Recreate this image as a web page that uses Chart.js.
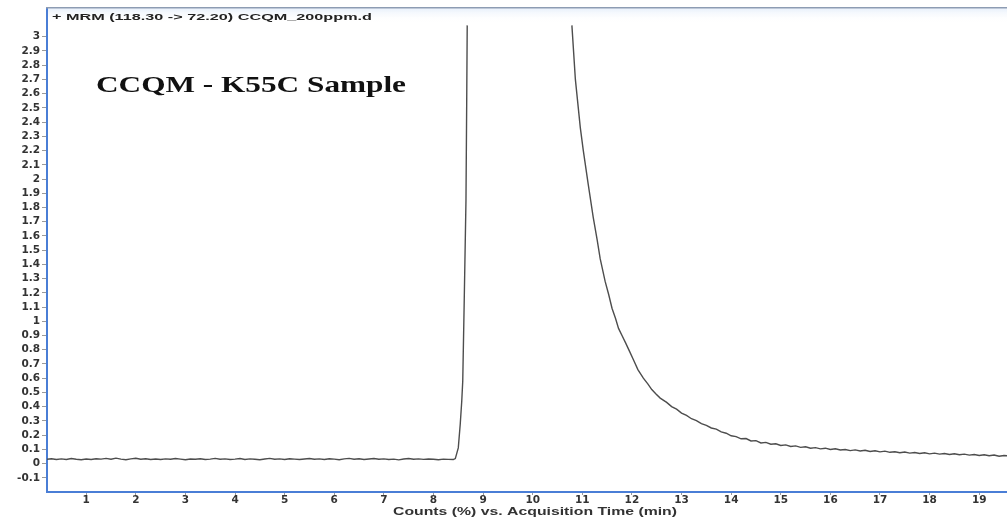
<!DOCTYPE html>
<html>
<head>
<meta charset="utf-8">
<script src="https://cdn.jsdelivr.net/npm/chart.js@4/dist/chart.umd.min.js"></script>
<style>
  html, body { margin: 0; padding: 0; background: #fff; }
  #wrap { width: 1007px; height: 518px; }
</style>
</head>
<body>
<div id="wrap"><canvas id="tic" width="1007" height="518"></canvas></div>
<script>
// chromatogram trace (time in min, counts in %)
const baseTimes = [0.2, 0.3, 0.4, 0.5, 0.6, 0.7, 0.8, 0.9, 1.0, 1.1, 1.2, 1.3, 1.4, 1.5, 1.6, 1.7, 1.8, 1.9,
  2.0, 2.1, 2.2, 2.3, 2.4, 2.5, 2.6, 2.7, 2.8, 2.9, 3.0, 3.1, 3.2, 3.3, 3.4, 3.5, 3.6, 3.7, 3.8, 3.9,
  4.0, 4.1, 4.2, 4.3, 4.4, 4.5, 4.6, 4.7, 4.8, 4.9, 5.0, 5.1, 5.2, 5.3, 5.4, 5.5, 5.6, 5.7, 5.8, 5.9,
  6.0, 6.1, 6.2, 6.3, 6.4, 6.5, 6.6, 6.7, 6.8, 6.9, 7.0, 7.1, 7.2, 7.3, 7.4, 7.5, 7.6, 7.7, 7.8, 7.9,
  8.0, 8.1, 8.2, 8.3, 8.4];
const baseCounts = [0.030, 0.034, 0.028, 0.033, 0.029, 0.035, 0.030, 0.027, 0.032, 0.029, 0.034, 0.031, 0.036, 0.030, 0.038, 0.031, 0.027, 0.033,
  0.037, 0.030, 0.034, 0.029, 0.032, 0.028, 0.033, 0.030, 0.035, 0.031, 0.027, 0.032, 0.030, 0.034, 0.028, 0.031, 0.036, 0.030, 0.033, 0.028,
  0.031, 0.035, 0.029, 0.033, 0.030, 0.027, 0.032, 0.036, 0.030, 0.033, 0.029, 0.034, 0.031, 0.028, 0.032, 0.035, 0.030, 0.033, 0.029, 0.034,
  0.031, 0.027, 0.033, 0.036, 0.030, 0.034, 0.029, 0.032, 0.035, 0.030, 0.033, 0.028, 0.031, 0.026, 0.032, 0.035, 0.030, 0.033, 0.029, 0.032,
  0.030, 0.027, 0.031, 0.029, 0.028];

const riseTimes = [8.44, 8.50, 8.54, 8.57, 8.59, 8.62, 8.655, 8.67, 8.68];
const riseCounts = [0.035, 0.11, 0.28, 0.44, 0.58, 1.15, 1.85, 2.56, 3.08];

// trace is off scale between the two sides of the peak
const gapTime = 9.7;

const decayTimes = [10.79, 10.86, 10.96, 11.02, 11.12, 11.22, 11.30, 11.36, 11.46, 11.53, 11.60, 11.67, 11.73, 11.80, 11.87,
  11.95, 12.03, 12.12, 12.23, 12.32, 12.40, 12.48, 12.57,
  12.7, 12.8, 12.9, 13.0, 13.1, 13.2, 13.3, 13.4, 13.5, 13.6, 13.7, 13.8, 13.9, 14.0, 14.1, 14.2, 14.3, 14.4,
  14.5, 14.6, 14.7, 14.8, 14.9, 15.0, 15.1, 15.2, 15.3, 15.4, 15.5, 15.6, 15.7, 15.8, 15.9, 16.0, 16.1, 16.2,
  16.3, 16.4, 16.5, 16.6, 16.7, 16.8, 16.9, 17.0, 17.1, 17.2, 17.3, 17.4, 17.5, 17.6, 17.7, 17.8, 17.9, 18.0,
  18.1, 18.2, 18.3, 18.4, 18.5, 18.6, 18.7, 18.8, 18.9, 19.0, 19.1, 19.2, 19.3, 19.4, 19.5, 19.6];
const decayCounts = [3.08, 2.70, 2.36, 2.20, 1.96, 1.73, 1.57, 1.44, 1.28, 1.19, 1.09, 1.02, 0.95, 0.90, 0.85,
  0.79, 0.73, 0.66, 0.60, 0.56, 0.52, 0.49, 0.46,
  0.43, 0.400, 0.382, 0.355, 0.338, 0.315, 0.302, 0.280, 0.268, 0.250, 0.242, 0.222, 0.213, 0.195, 0.189, 0.174, 0.176, 0.159,
  0.161, 0.145, 0.149, 0.136, 0.139, 0.127, 0.131, 0.120, 0.124, 0.114, 0.118, 0.108, 0.112, 0.103, 0.108, 0.099, 0.104, 0.095,
  0.099, 0.091, 0.096, 0.088, 0.093, 0.085, 0.090, 0.082, 0.087, 0.079, 0.083, 0.076, 0.081, 0.073, 0.078, 0.071, 0.076, 0.068,
  0.073, 0.066, 0.071, 0.064, 0.069, 0.062, 0.066, 0.059, 0.064, 0.057, 0.062, 0.055, 0.060, 0.051, 0.057, 0.053];

const xTickValues = [1, 2, 3, 4, 5, 6, 7, 8, 9, 10, 11, 12, 13, 14, 15, 16, 17, 18, 19];
const yTickValues = [-0.1, 0, 0.1, 0.2, 0.3, 0.4, 0.5, 0.6, 0.7, 0.8, 0.9, 1, 1.1, 1.2, 1.3, 1.4, 1.5, 1.6, 1.7, 1.8, 1.9,
  2, 2.1, 2.2, 2.3, 2.4, 2.5, 2.6, 2.7, 2.8, 2.9, 3];

const traceLabel = "+ MRM (118.30 -> 72.20) CCQM_200ppm.d";
const sampleTitle = "CCQM - K55C Sample";
const xAxisTitle = "Counts (%) vs. Acquisition Time (min)";

const toPoints = (ts, vs) => ts.map((t, i) => ({ x: t, y: vs[i] }));
const trace = [
  ...toPoints(baseTimes, baseCounts),
  ...toPoints(riseTimes, riseCounts),
  { x: gapTime, y: null },
  ...toPoints(decayTimes, decayCounts)
];

// texts stretched sideways like the exported image
const overlayText = {
  id: "overlayText",
  beforeDraw(chart) {
    const { ctx, chartArea } = chart;
    // pale band under the top frame
    const g = ctx.createLinearGradient(0, chartArea.top, 0, chartArea.top + 14);
    g.addColorStop(0, "#e8f0fb");
    g.addColorStop(1, "rgba(255,255,255,0)");
    ctx.fillStyle = g;
    ctx.fillRect(chartArea.left, chartArea.top, chartArea.right - chartArea.left, 14);
  },
  afterDraw(chart) {
    const { ctx, chartArea } = chart;
    ctx.save();
    ctx.strokeStyle = "#8d9cb3";
    ctx.lineWidth = 1.5;
    ctx.beginPath();
    ctx.moveTo(chartArea.left - 1, chartArea.top - 0.5);
    ctx.lineTo(chartArea.right, chartArea.top - 0.5);
    ctx.stroke();

    const drawStretched = (text, font, x, y, width, color, align) => {
      ctx.font = font;
      const w = ctx.measureText(text).width;
      ctx.save();
      ctx.translate(align === "center" ? x - width / 2 : x, y);
      ctx.scale(width / w, 1);
      ctx.fillStyle = color;
      ctx.textBaseline = "alphabetic";
      ctx.fillText(text, 0, 0);
      ctx.restore();
    };
    drawStretched(traceLabel, "bold 9.5px 'Liberation Sans', Arial, sans-serif", 52, 20, 320, "#222");
    drawStretched(sampleTitle, "bold 23.5px 'Liberation Serif', 'Times New Roman', serif", 96, 92, 310, "#111");
    drawStretched(xAxisTitle, "bold 10.5px 'Liberation Sans', Arial, sans-serif", 535, 515, 284, "#333", "center");
    ctx.restore();
  }
};

const tickFont = { family: "'DejaVu Sans', sans-serif", size: 10.5, weight: "bold" };

new Chart(document.getElementById("tic").getContext("2d"), {
  type: "line",
  data: {
    datasets: [{
      data: trace,
      borderColor: "#4d4d4d",
      borderWidth: 1.4,
      pointRadius: 0,
      tension: 0,
      spanGaps: false
    }]
  },
  options: {
    responsive: false,
    animation: false,
    layout: { padding: { top: 8, right: 0, left: 0, bottom: 0 } },
    plugins: { legend: { display: false }, tooltip: { enabled: false }, title: { display: false } },
    scales: {
      x: {
        type: "linear",
        min: 0.21,
        max: 19.56,
        afterBuildTicks: (scale) => { scale.ticks = xTickValues.map(v => ({ value: v })); },
        afterFit: (scale) => { scale.height = 26; },
        border: { color: "#4a7ed6", width: 2 },
        grid: { drawOnChartArea: false, color: "#9a9a9a", tickLength: 3 },
        ticks: { font: tickFont, color: "#333", padding: -1, maxRotation: 0, autoSkip: false },
        title: { display: false }
      },
      y: {
        min: -0.2,
        max: 3.2,
        afterBuildTicks: (scale) => { scale.ticks = yTickValues.map(v => ({ value: v })); },
        afterFit: (scale) => { scale.width = 47; },
        border: { color: "#4a7ed6", width: 2 },
        grid: { drawOnChartArea: false, color: "#9a9a9a", tickLength: 5 },
        ticks: {
          font: tickFont,
          color: "#333",
          padding: 2,
          autoSkip: false,
          callback: (v) => String(parseFloat(Number(v).toFixed(1)))
        }
      }
    }
  },
  plugins: [overlayText]
});
</script>
</body>
</html>
